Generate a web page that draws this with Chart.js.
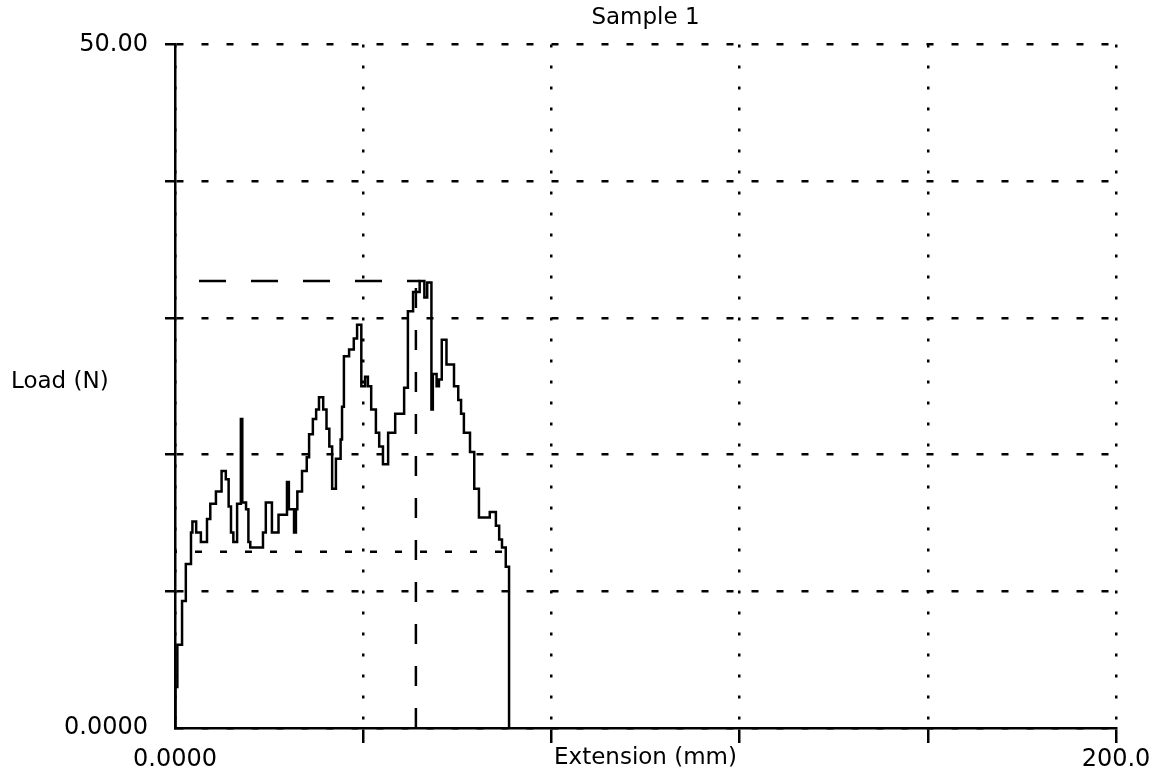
<!DOCTYPE html>
<html>
<head>
<meta charset="utf-8">
<title>Sample 1</title>
<script src="https://cdn.jsdelivr.net/npm/chart.js@4.4.1/dist/chart.umd.min.js"></script>
<style>
    html, body { margin: 0; padding: 0; background: #fff; }
    #wrap { width: 1161px; height: 778px; }
</style>
</head>
<body>
<div id="wrap"><canvas id="loadChart"></canvas></div>
<script>
// ---- Data ----
const extension = [0, 0.1, 0.5, 1.5, 2.3, 3.4, 3.7, 4.5, 5.5, 6.8, 7.5, 8.7, 9.9, 10.8, 11.4,
    11.9, 12.4, 13.2, 14.0, 14.3, 15.1, 15.6, 16.0, 18.7, 19.3, 20.6, 22.0, 23.8, 24.2, 25.3,
    25.7, 26.0, 27.0, 28.0, 28.5, 29.3, 30.0, 30.6, 31.5, 32.2, 32.8, 33.4, 34.2, 35.2, 35.5,
    35.9, 37.0, 38.0, 38.7, 39.6, 40.4, 41.0, 41.7, 42.7, 43.4, 44.2, 45.3, 46.8, 48.7, 49.5,
    50.6, 52.0, 53.0, 53.6, 54.5, 54.8, 55.6, 56.1, 56.7, 57.7, 59.3, 60.2, 60.8, 61.4, 62.7,
    63.6, 64.6, 66.9, 68.2, 68.9, 69.5, 70.3, 71.0];
const load = [0, 3.0, 6.1, 9.3, 12.0, 14.3, 15.1, 14.3, 13.6, 15.3, 16.4, 17.3, 18.8, 18.2, 16.2,
    14.3, 13.6, 16.4, 22.6, 16.5, 16.0, 13.6, 13.2, 14.3, 16.5, 14.3, 15.6, 18.0, 16.0, 14.3,
    16.0, 17.3, 18.8, 19.8, 21.5, 22.6, 23.3, 24.2, 23.3, 21.9, 20.6, 17.5, 19.7, 21.1, 23.5,
    27.2, 27.7, 28.5, 29.5, 25.0, 25.7, 25.0, 23.3, 21.6, 20.6, 19.3, 21.6, 23.0, 24.9, 30.5,
    31.9, 32.7, 31.5, 32.6, 23.3, 25.9, 25.0, 25.5, 28.4, 26.6, 25.0, 24.0, 23.0, 21.6, 20.2,
    17.5, 15.4, 15.8, 14.8, 13.8, 13.2, 11.8, 0];

// peak marker and break level
const peakExtension = [0, 52.0];
const peakLoad = [32.7, 32.7];
const peakDropExtension = [51.2, 51.2];
const peakDropLoad = [0, 32.7];
const breakExtension = [0, 70.5];
const breakLoad = [12.9, 12.9];

// axes
const xTicks = [0, 40, 80, 120, 160, 200];
const xLabels = ['0.0000', '', '', '', '', '200.0'];
const yTicks = [0, 10, 20, 30, 40, 50];
const yLabels = ['0.0000', '', '', '', '', '50.00'];
const yTitleAt = [25.3];

const toPoints = (xs, ys) => xs.map((x, i) => ({ x, y: ys[i] }));

// ---- Chart ----
const numFont = { family: "'DejaVu Sans', sans-serif", size: 24 };
const textFont = { family: "'DejaVu Sans', sans-serif", size: 23 };
const ink = '#000';

new Chart(document.getElementById('loadChart'), {
    type: 'line',
    data: {
        datasets: [
            {
                label: 'Load',
                data: toPoints(extension, load),
                stepped: true,
                borderColor: ink,
                borderWidth: 2.5,
                pointRadius: 0,
                xAxisID: 'x',
                yAxisID: 'y',
            },
            {
                label: 'Peak',
                data: toPoints(peakExtension, peakLoad),
                borderColor: ink,
                borderWidth: 2.5,
                borderDash: [27, 25],
                borderDashOffset: 28,
                pointRadius: 0,
                xAxisID: 'x',
                yAxisID: 'y',
            },
            {
                label: 'Peak extension',
                data: toPoints(peakDropExtension, peakDropLoad),
                borderColor: ink,
                borderWidth: 2.5,
                borderDash: [20, 22],
                pointRadius: 0,
                xAxisID: 'x',
                yAxisID: 'y',
            },
            {
                label: 'Break',
                data: toPoints(breakExtension, breakLoad),
                borderColor: ink,
                borderWidth: 2.5,
                borderDash: [7, 18],
                borderDashOffset: -20,
                pointRadius: 0,
                xAxisID: 'x',
                yAxisID: 'y',
            }
        ]
    },
    options: {
        responsive: true,
        maintainAspectRatio: false,
        animation: false,
        layout: { padding: { left: 0, right: 45, top: 0, bottom: 0 } },
        plugins: {
            legend: { display: false },
            tooltip: { enabled: false },
            title: {
                display: true,
                text: 'Sample 1',
                fullSize: false,
                color: ink,
                font: { ...textFont, weight: 'normal' },
                padding: { top: 4, bottom: 13 }
            }
        },
        scales: {
            x: {
                type: 'linear',
                min: 0,
                max: 200,
                afterBuildTicks: s => { s.ticks = xTicks.map(v => ({ value: v })); },
                afterFit: s => { s.height = 50; },
                grid: {
                    color: ink,
                    lineWidth: 2.5,
                    tickLength: 15,
                    tickWidth: 2.5,
                    tickColor: c => (c.tick && c.tick.value === 0 ? 'transparent' : ink)
                },
                border: { display: true, color: ink, width: 2.5, dash: [3, 18] },
                ticks: {
                    autoSkip: false,
                    maxRotation: 0,
                    padding: 2,
                    color: ink,
                    font: numFont,
                    callback: v => xLabels[xTicks.indexOf(v)]
                },
                title: {
                    display: true,
                    text: 'Extension (mm)',
                    color: ink,
                    font: textFont,
                    padding: { top: 0, bottom: 6 }
                }
            },
            y: {
                type: 'linear',
                position: 'left',
                min: 0,
                max: 50,
                weight: 0,
                afterBuildTicks: s => { s.ticks = yTicks.map(v => ({ value: v })); },
                afterFit: s => { s.width = 175; },
                grid: {
                    color: ink,
                    lineWidth: 2.5,
                    tickLength: 10,
                    tickWidth: 2.5,
                    tickColor: c => (c.tick && c.tick.value === 0 ? 'transparent' : ink)
                },
                border: { display: true, color: ink, width: 2.5, dash: [7, 18] },
                ticks: {
                    autoSkip: false,
                    crossAlign: 'near',
                    padding: 17,
                    color: ink,
                    font: numFont,
                    callback: v => yLabels[yTicks.indexOf(v)]
                }
            },
            yLab: {
                type: 'linear',
                position: 'left',
                min: 0,
                max: 50,
                weight: 1,
                afterBuildTicks: s => { s.ticks = yTitleAt.map(v => ({ value: v })); },
                afterFit: s => { s.width = 0; },
                grid: { display: false, drawTicks: false },
                border: { display: false },
                ticks: {
                    autoSkip: false,
                    mirror: true,
                    crossAlign: 'near',
                    padding: 11,
                    color: ink,
                    font: textFont,
                    callback: () => 'Load (N)'
                }
            }
        }
    }
});
</script>
</body>
</html>
